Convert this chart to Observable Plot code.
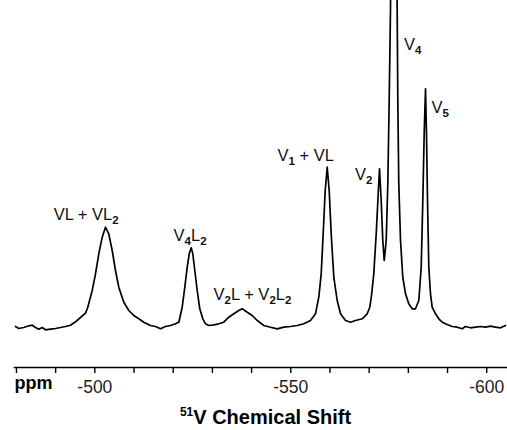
<!DOCTYPE html>
<html>
<head>
<meta charset="utf-8">
<script src="https://cdn.jsdelivr.net/npm/d3@7"></script>
<script src="https://cdn.jsdelivr.net/npm/@observablehq/plot@0.6"></script>
<style>
  html, body { margin: 0; padding: 0; background: #fff; }
  #chart svg { display: block; overflow: visible; }
  #title { width: 507px; box-sizing: border-box; padding-left: 24px; text-align: center;
           font: bold 20px "Liberation Sans", Arial, sans-serif; color: #000; line-height: 22px; padding-top: 6px; }
  #title sup { font-size: 12px; vertical-align: 8px; line-height: 0; }
</style>
</head>
<body>
<div id="chart"></div>
<div id="title"><sup>51</sup>V Chemical Shift</div>
<script>
// Chemical shift (ppm) of each sampled point of the spectrum
const ppm = [
  -479.76, -480.60, -481.87, -483.15, -484.02, -484.86, -485.70, -486.57, -487.41, -488.69,
  -489.96, -491.24, -492.51, -493.79, -495.07, -496.34, -497.62,
  -498.20, -499.33, -500.17, -501.01, -501.88,
  -502.72, -503.56, -504.43, -505.27, -506.11, -507.39, -508.67, -509.94, -511.22, -512.49,
  -514.20, -515.48, -516.76, -518.03, -519.31, -520.58, -521.43, -522.29, -522.96, -523.57,
  -524.08, -524.59, -525.00, -525.51, -526.12, -526.78, -527.55, -528.24, -529.08, -530.36,
  -531.63, -532.91, -534.18, -535.46, -536.74, -537.60, -538.88, -540.15, -541.43, -543.11,
  -544.82, -546.53, -548.22, -549.93, -551.64, -553.32, -555.03, -556.31, -557.15, -557.76,
  -558.27, -558.78, -559.29, -559.80, -560.31, -560.98, -561.84, -562.69, -563.96, -565.24,
  -566.51, -568.22, -569.50, -570.16, -570.60, -571.18, -571.80, -572.31, -572.64, -573.07,
  -573.48, -573.84, -574.35, -574.76, -575.11, -575.44, -575.78, -576.29, -576.80, -577.15,
  -577.31, -577.56, -578.00, -578.58, -579.27, -580.11, -580.98, -581.82, -582.67, -583.28,
  -583.69, -584.04, -584.38, -584.63, -584.89, -585.22,
  -585.65, -586.08, -586.93, -587.77, -588.64, -589.91, -591.19, -592.46, -593.74, -594.58,
  -595.86, -597.13, -598.41, -599.69, -600.96, -602.24, -603.51, -604.79
];
// Signal intensity (arbitrary units) at each ppm above
const intensity = [
  2, 0, 1, 2.7, 3.3, 1, -0.7, 1, -1.3, -0.7,
  0, 1, 2, 3.3, 6.7, 11, 15.3,
  21.3, 38, 54.7, 74.7, 91.3,
  101.3, 94.7, 78, 58, 41.3, 26.3, 18, 13, 9.7, 6.3,
  3, 2, -0.3, 2, 3, 4.7, 6.3, 21.3, 41.3, 61.3,
  74.7, 80.7, 74.7, 58, 38, 19.7, 9.7, 4.7, 3, 3.7,
  4.7, 6.3, 11.3, 14.7, 18, 19.7, 16.3, 13, 8, 3,
  1.3, -0.3, 1.3, 2, 3, 4.7, 8, 14.7, 31.3, 54.7,
  94.7, 138, 161.3, 138, 94.7, 51.3, 28, 14.7, 8, 6.3,
  8, 9.7, 14.7, 21.3, 33, 54.7, 94.7, 134.7, 159.7, 128,
  88, 68, 88, 144.7, 228, 318, 490, 700, 490, 318,
  228, 144.7, 88, 51.3, 34.7, 24.7, 19.7, 19.7, 28, 61.3,
  128, 194.7, 239.7, 194.7, 128, 61.3,
  34.7, 21.3, 14.7, 9.7, 6.3, 4, 2, 1.3, -0.3, 2,
  0.7, 1.3, 2, 1.3, 2.3, 1.3, 0.7, 3
];
// Peak labels ("_n" = subscript digit), with the ppm / intensity of their left baseline
const labelText = ["VL + VL_2", "V_4L_2", "V_2L + V_2L_2", "V_1 + VL", "V_2", "V_4", "V_5"];
const labelPpm = [-489.5, -520.1, -530.3, -546.6, -566.4, -578.9, -585.9];
const labelIntensity = [109, 88, 29, 167.5, 149, 279, 216];
// Axis ticks
const tickValues = [-480, -490, -500, -510, -520, -530, -540, -550, -560, -570, -580, -590, -600];
const tickLabels = ["-500", "-550", "-600"];

const spectrum = ppm.map((p, i) => ({ppm: p, intensity: intensity[i]}));
const labels = labelText.map((t, i) => ({text: t, ppm: labelPpm[i], intensity: labelIntensity[i]}));

const chart = Plot.plot({
  width: 507,
  height: 400,
  marginLeft: 14,
  marginRight: 0,
  marginTop: 0,
  marginBottom: 33,
  style: {background: "#fff", fontFamily: "'Liberation Sans', Arial, sans-serif", overflow: "visible"},
  x: {domain: [-479.5, -605.3]},
  y: {domain: [-39, 328], axis: null},
  marks: [
    Plot.frame({anchor: "bottom", stroke: "#000", strokeWidth: 1.6}),
    Plot.axisX({
      ticks: tickValues,
      tickSize: 6,
      tickPadding: 7,
      stroke: "#000",
      strokeWidth: 1.4,
      fontSize: 17.5,
      fill: "#222",
      label: null,
      tickFormat: d => tickLabels.includes(String(d)) ? String(d) : ""
    }),
    Plot.text(["ppm"], {frameAnchor: "bottom-left", dy: 21, textAnchor: "start", fontWeight: "bold", fontSize: 18, fill: "#000"}),
    Plot.line(spectrum, {x: "ppm", y: "intensity", stroke: "#000", strokeWidth: 1.7, clip: true, curve: "linear"}),
    Plot.text(labels, {x: "ppm", y: "intensity", text: "text", textAnchor: "start", lineAnchor: "bottom",
      fontSize: 16.5, fill: "#111", className: "peak-label"})
  ]
});
document.getElementById("chart").appendChild(chart);

// Render "_n" as real subscript tspans
const NS = "http://www.w3.org/2000/svg";
chart.querySelectorAll(".peak-label text").forEach(t => {
  const s = t.textContent;
  while (t.firstChild) t.removeChild(t.firstChild);
  const parts = s.split(/_(\d)/);
  let shifted = false;
  parts.forEach((part, i) => {
    if (part === "") return;
    const ts = document.createElementNS(NS, "tspan");
    ts.textContent = part;
    if (i % 2 === 1) {
      ts.setAttribute("font-size", "11.5");
      ts.setAttribute("font-weight", "bold");
      if (!shifted) { ts.setAttribute("dy", "4"); shifted = true; }
    } else if (shifted) {
      ts.setAttribute("dy", "-4");
      shifted = false;
    }
    t.appendChild(ts);
  });
});
</script>
</body>
</html>
